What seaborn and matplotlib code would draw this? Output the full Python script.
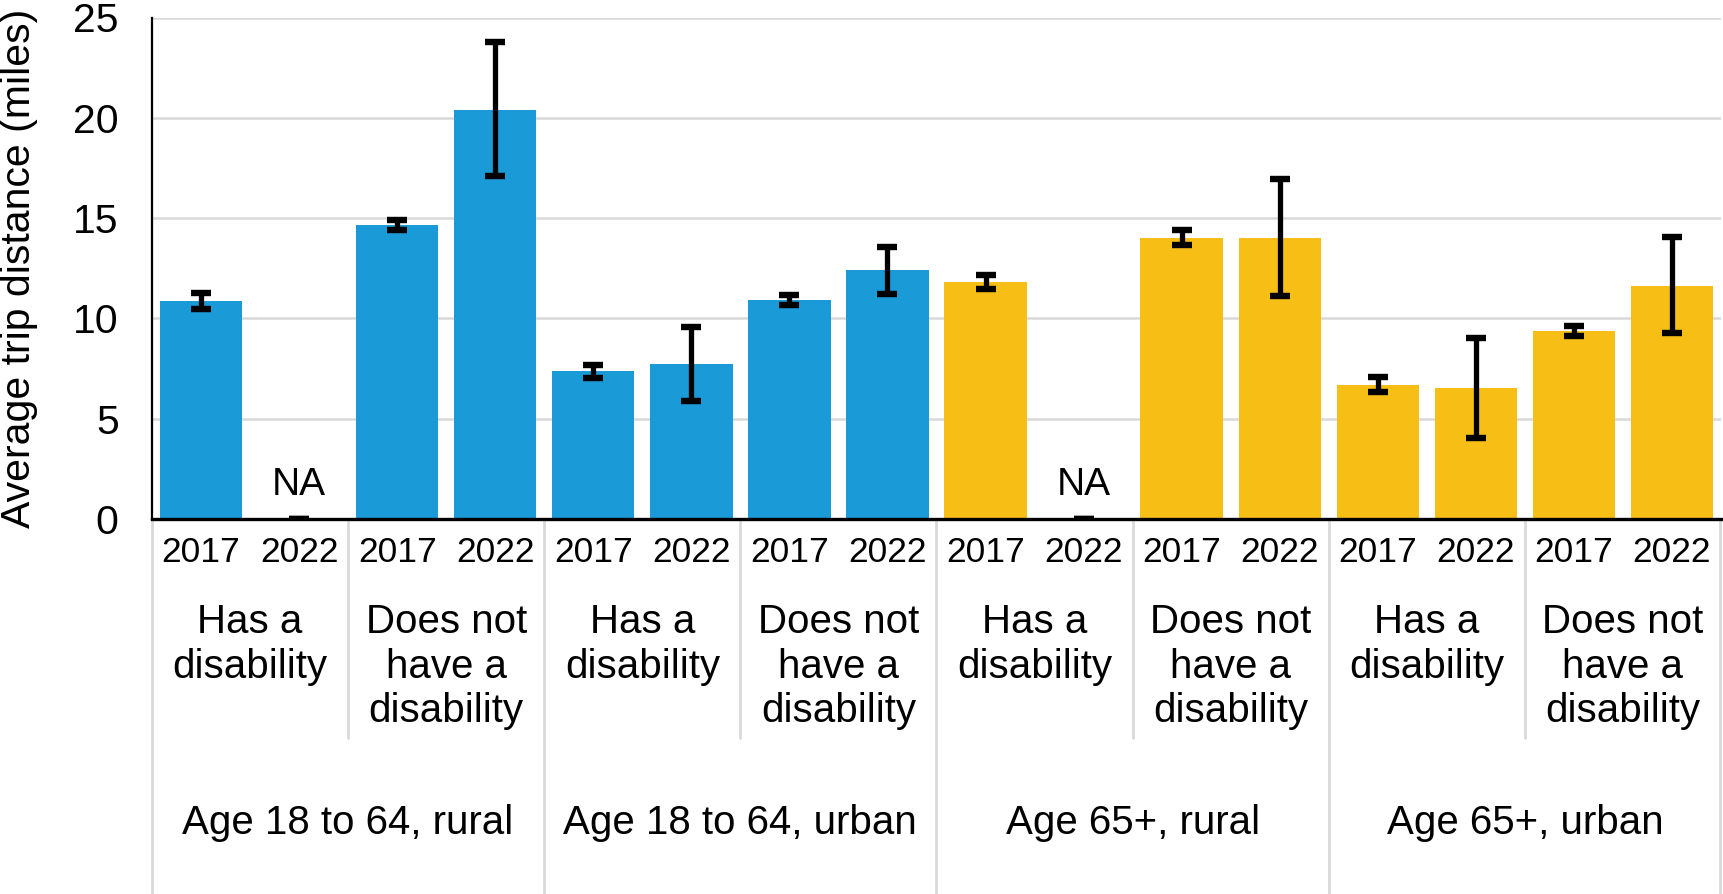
import matplotlib
matplotlib.use("Agg")
import matplotlib.pyplot as plt
import matplotlib.transforms as mtransforms
import seaborn as sns
import pandas as pd
import numpy as np

# ---------------- data ----------------
groups = ["Age 18 to 64, rural", "Age 18 to 64, urban", "Age 65+, rural", "Age 65+, urban"]
subgroups = ["Has a\ndisability", "Does not\nhave a\ndisability"]
years = ["2017", "2022"]

means = [10.85, 0.0, 14.65, 20.40, 7.37, 7.72, 10.92, 12.40,
         11.82, 0.0, 14.03, 14.03, 6.69, 6.53, 9.36, 11.64]
upper = [11.25, 0.0, 14.89, 23.76, 7.67, 9.55, 11.15, 13.55,
         12.18, 0.0, 14.42, 16.95, 7.07, 9.03, 9.61, 14.06]
lower = [10.46, 0.0, 14.42, 17.10, 7.05, 5.90, 10.67, 11.22,
         11.47, 0.0, 13.66, 11.10, 6.33, 4.05, 9.11, 9.28]
is_na = [False, True, False, False, False, False, False, False,
         False, True, False, False, False, False, False, False]

blue = "#1A9AD6"
yellow = "#F7BF16"
group_colors = [blue, blue, yellow, yellow]

# ---------------- frame ----------------
rows = []
for gi, g in enumerate(groups):
    for si, s in enumerate(subgroups):
        for yi, y in enumerate(years):
            k = gi * 4 + si * 2 + yi
            rows.append({"slot": f"{g}|{s}|{y}", "group": g, "sub": s, "year": y,
                         "value": means[k], "color": group_colors[gi]})
df = pd.DataFrame(rows)
order = list(df["slot"])
palette = {r.slot: r.color for r in df.itertuples()}

# ---------------- figure ----------------
sns.set_theme(style="white")
plt.rcParams["font.family"] = ["Liberation Sans", "DejaVu Sans"]

W, H = 1724, 894
fig = plt.figure(figsize=(W / 100, H / 100), dpi=100)
ax = fig.add_axes([152 / W, 1 - 519 / H, (1721 - 152) / W, (519 - 17.5) / H])

sns.barplot(data=df, x="slot", y="value", hue="slot", order=order, hue_order=order,
            palette=palette, legend=False, width=0.84, ax=ax, saturation=1,
            linewidth=0, zorder=2)

xpos = np.arange(len(order))
yerr = np.array([np.array(means) - np.array(lower), np.array(upper) - np.array(means)])
ax.errorbar(xpos, means, yerr=yerr, fmt="none", ecolor="black", elinewidth=3.8,
            capsize=7, capthick=4.6, zorder=4)

ax.set_xlim(-0.5, len(order) - 0.5)
ax.set_ylim(0, 25)
ax.set_yticks([0, 5, 10, 15, 20, 25])
ax.tick_params(axis="y", length=0, pad=24, labelsize=29.5, labelcolor="black")
ax.set_xticks([])
ax.set_xlabel("")
ax.set_ylabel("Average trip distance (miles)", fontsize=29.5, color="black")
ax.yaxis.set_label_coords(-0.0725, 0.5)

ax.grid(axis="y", color="#D9D9D9", linewidth=1.8, zorder=0)
ax.set_axisbelow(True)
for side in ["top", "right"]:
    ax.spines[side].set_visible(False)
ax.spines["left"].set_color("black")
ax.spines["left"].set_linewidth(1.6)
ax.spines["bottom"].set_color("black")
ax.spines["bottom"].set_linewidth(2.4)
ax.spines["bottom"].set_zorder(5)

# NA labels
for i, na in enumerate(is_na):
    if na:
        ax.text(xpos[i], 0.8, "NA", ha="center", va="bottom", fontsize=28, color="black")

# ---------------- category labels ----------------
trans = mtransforms.blended_transform_factory(ax.transData, fig.transFigure)
for i, r in enumerate(df.itertuples()):
    ax.text(i, 1 - 553 / H, r.year, transform=trans, ha="center", va="center",
            fontsize=25.5, color="black", clip_on=False)

for gi, g in enumerate(groups):
    for si, s in enumerate(subgroups):
        cx = gi * 4 + si * 2 + 0.5
        ax.text(cx, 1 - 603 / H, s, transform=trans, ha="center", va="top",
                fontsize=29, linespacing=1.22, color="black", clip_on=False)
    ax.text(gi * 4 + 1.5, 1 - 823 / H, g, transform=trans, ha="center", va="center",
            fontsize=29, color="black", clip_on=False)

sep_color = "#D9D9D9"
y_axis_bottom = 1 - 519 / H
for b in [-0.5, 3.5, 7.5, 11.5, 15.5]:
    xb = b if b < 15.4 else 15.49
    ax.plot([xb, xb], [y_axis_bottom, 0], transform=trans, color=sep_color,
            linewidth=2, clip_on=False, zorder=1)
for b in [1.5, 5.5, 9.5, 13.5]:
    ax.plot([b, b], [y_axis_bottom, 1 - 738 / H], transform=trans, color=sep_color,
            linewidth=2, clip_on=False, zorder=1)

fig.savefig("out.png", dpi=100)
